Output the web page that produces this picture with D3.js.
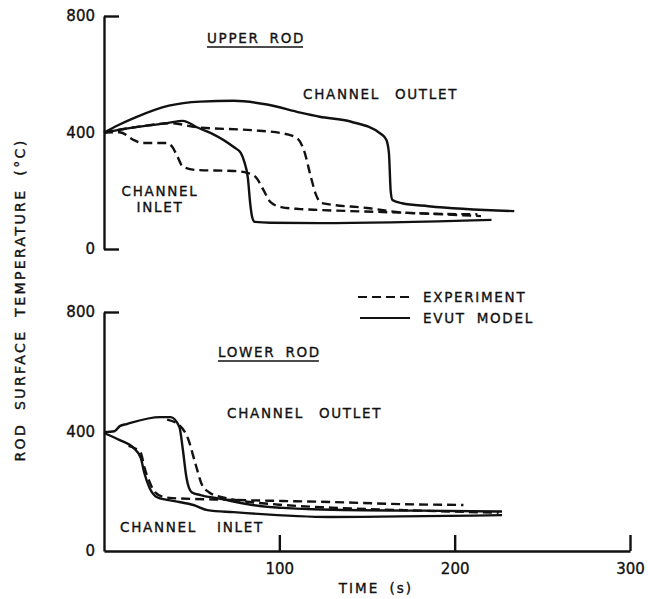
<!DOCTYPE html>
<html>
<head>
<meta charset="utf-8">
<script src="https://cdn.jsdelivr.net/npm/d3@7"></script>
<style>
  body { margin: 0; background: #fff; }
  svg { display: block; }
  text { font-family: "DejaVu Sans", sans-serif; fill: #111; stroke: #111; stroke-width: 0.35px; }
</style>
</head>
<body>
<svg width="648" height="599"></svg>
<script>
// values: [time (s), temperature (°C)]
var upperModelOutlet = [[0,400],[8,425],[18,452],[37,492],[55,506],[74,509],[93,496],[112,468],[123,454],[141,437],[158,395],[161,375],[162.5,330],[163.5,200],[164.5,168],[170,157],[185,147],[234,130]];
var upperModelInlet  = [[0,400],[20,420],[36,432],[45,440],[53,418],[61,398],[74,350],[78,330],[80,300],[82,247],[83.5,150],[84.5,110],[86,93],[95,90],[123,89],[221,100]];
var upperExpOutlet   = [[0,400],[20,420],[38,432],[53,418],[84,408],[101,398],[110,381],[114,340],[118,247],[121,185],[124,158],[150,141],[173,124],[213,119]];
var upperExpInlet    = [[0,400],[9,401],[17,374],[22,364],[36,364],[39,350],[42,316],[45,282],[53,271],[74,268],[82,261],[87,244],[91,202],[95,161],[101,144],[112,137],[123,134],[173,124],[215,113]];

var lowerModelOutlet = [[0,398],[6,401],[9,418],[13,425],[32,448],[38,448],[43,415],[45,338],[47,247],[50,197],[55,187],[65,176],[90,150],[130,138],[180,135],[227,132]];
var lowerModelInlet  = [[0,395],[9,371],[17,344],[21,311],[23,261],[26,211],[30,181],[36,171],[43,164],[51,154],[59,137],[74,130],[129,114],[227,120]];
var lowerExpOutlet   = [[36,440],[43,421],[48,375],[52,295],[56,220],[60,196],[66,182],[74,172],[100,155],[130,145],[180,135],[225,128]];
var lowerExpInlet    = [[14,352],[21,328],[23,281],[26,231],[29,197],[34,181],[39,177],[74,171],[129,164],[169,157],[205,154]];

var yTicks = [0, 400, 800];
var xTicks = [100, 200, 300];

var svg = d3.select("svg");

var x = d3.scaleLinear().domain([0, 300]).range([104, 630]);
var yTop = d3.scaleLinear().domain([0, 800]).range([249, 16]);
var yBot = d3.scaleLinear().domain([0, 800]).range([551, 312]);

function styleAxis(g) {
  g.selectAll("path, line").attr("stroke", "#111").attr("stroke-width", 2.4);
  g.selectAll("text").style("font-family", "DejaVu Sans, sans-serif")
    .style("font-size", "15px").attr("fill", "#111");
}

// upper panel: left axis, ticks point right, no tick at 400
svg.append("g")
  .attr("transform", "translate(" + x(0) + ",0)")
  .call(d3.axisLeft(yTop).tickValues(yTicks).tickSizeInner(-15).tickSizeOuter(0).tickPadding(9))
  .call(styleAxis)
  .call(function(g) { g.selectAll(".tick").filter(function(d) { return d === 400; }).select("line").remove(); });

// lower panel: left axis
svg.append("g")
  .attr("transform", "translate(" + x(0) + ",0)")
  .call(d3.axisLeft(yBot).tickValues(yTicks).tickSizeInner(-15).tickSizeOuter(0).tickPadding(9))
  .call(styleAxis)
  .call(function(g) { g.selectAll(".tick").filter(function(d) { return d !== 800; }).select("line").remove(); });

// lower panel: time axis, ticks point up
svg.append("g")
  .attr("transform", "translate(0," + yBot(0) + ")")
  .call(d3.axisBottom(x).tickValues(xTicks).tickSizeInner(-16).tickSizeOuter(0).tickPadding(9))
  .call(styleAxis)
  .call(function(g) { g.selectAll(".tick text").attr("dy", "0.9em"); });

function drawCurve(data, yScale, dashed) {
  var line = d3.line()
    .curve(d3.curveMonotoneX)
    .x(function(d) { return x(d[0]); })
    .y(function(d) { return yScale(d[1]); });
  svg.append("path")
    .datum(data)
    .attr("d", line)
    .attr("fill", "none")
    .attr("stroke", "#111")
    .attr("stroke-width", 2.4)
    .attr("stroke-linejoin", "round")
    .attr("stroke-dasharray", dashed ? "9,5" : null);
}

drawCurve(upperModelOutlet, yTop, false);
drawCurve(upperModelInlet, yTop, false);
drawCurve(upperExpOutlet, yTop, true);
drawCurve(upperExpInlet, yTop, true);

drawCurve(lowerModelOutlet, yBot, false);
drawCurve(lowerModelInlet, yBot, false);
drawCurve(lowerExpOutlet, yBot, true);
drawCurve(lowerExpInlet, yBot, true);

// annotations
function label(txt, px, py, anchor, underline, wordGap) {
  var t = svg.append("text")
    .attr("x", px).attr("y", py)
    .attr("text-anchor", anchor || "start")
    .style("font-size", "13.5px")
    .style("letter-spacing", "1.7px")
    .style("word-spacing", (wordGap || 0) + "px")
    .text(txt);
  if (underline) {
    var b = t.node().getBBox();
    svg.append("line")
      .attr("x1", b.x).attr("x2", b.x + b.width - 2)
      .attr("y1", py + 4).attr("y2", py + 4)
      .attr("stroke", "#111").attr("stroke-width", 1.6);
  }
  return t;
}

label("UPPER ROD", 207, 43, "start", true, 4);
label("CHANNEL OUTLET", 303, 99, "start", false, 9);
label("CHANNEL", 160, 196, "middle");
label("INLET", 160, 212, "middle");

label("LOWER ROD", 218, 357, "start", true, 4);
label("CHANNEL OUTLET", 227, 418, "start", false, 9);
label("CHANNEL INLET", 120, 532, "start", false, 14);

// legend
svg.append("line").attr("x1", 358).attr("x2", 410).attr("y1", 297).attr("y2", 297)
  .attr("stroke", "#111").attr("stroke-width", 2).attr("stroke-dasharray", "9,5");
svg.append("line").attr("x1", 360).attr("x2", 410).attr("y1", 318).attr("y2", 318)
  .attr("stroke", "#111").attr("stroke-width", 2);
label("EXPERIMENT", 423, 302);
label("EVUT MODEL", 423, 323, "start", false, 5);

// axis titles
svg.append("text")
  .attr("x", 376).attr("y", 593)
  .attr("text-anchor", "middle")
  .style("font-size", "13.5px")
  .style("letter-spacing", "2px")
  .style("word-spacing", "4px")
  .text("TIME (s)");

svg.append("text")
  .attr("transform", "translate(25,300) rotate(-90)")
  .attr("text-anchor", "middle")
  .style("font-size", "14px")
  .style("letter-spacing", "2.4px")
  .style("word-spacing", "6px")
  .text("ROD SURFACE TEMPERATURE (°C)");
</script>
</body>
</html>
